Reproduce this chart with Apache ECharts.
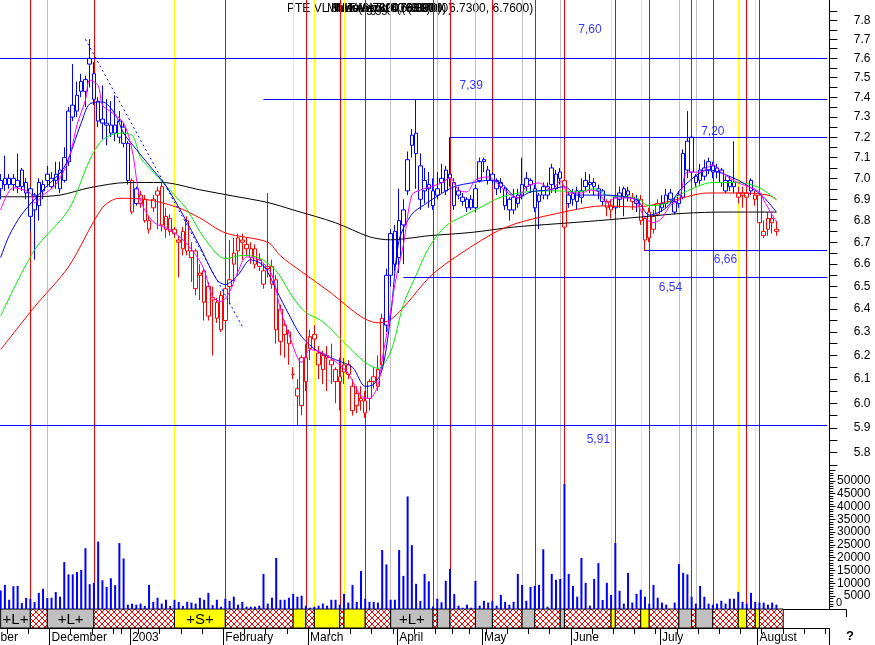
<!DOCTYPE html>
<html><head><meta charset="utf-8"><title>PTE VL JMT</title>
<script src="https://cdn.jsdelivr.net/npm/echarts@6/dist/echarts.min.js"></script>
<style>html,body{margin:0;padding:0;background:#fff;}#chart{width:875px;height:645px;}</style>
</head><body><div id="chart"></div>
<script>
// ---------- trading days (categories) ----------
const holidays = ['2002-12-24','2002-12-25','2002-12-26','2003-01-01','2003-04-18','2003-04-21','2003-05-01'];
const firstDay = '2002-11-01';
const dayCount = 205;
const days = [];
(function(){
  let t = Date.parse(firstDay + 'T00:00:00Z');
  while (days.length < dayCount) {
    const d = new Date(t); const wd = d.getUTCDay(); const s = d.toISOString().slice(0,10);
    if (wd !== 0 && wd !== 6 && holidays.indexOf(s) < 0) days.push(s);
    t += 86400000;
  }
})();
const monthNames = ['2003','February','March','April','May','June','July','August','September','October','November','December'];

// ---------- daily candles (from 2002-11-14) ----------
const candleStart = '2002-11-14';
const opens = [
6.95,6.97,6.97,7.00,6.99,7.04,6.98,6.95,6.92,6.87,
6.94,7.02,6.96,7.02,6.95,6.99,7.08,7.30,7.33,7.43,
7.49,7.60,7.52,7.38,7.27,7.26,7.22,7.26,7.28,7.25,
7.17,6.99,6.88,6.92,6.90,6.80,6.86,6.94,6.96,6.82,
6.81,6.76,6.71,6.67,6.80,6.66,6.66,6.55,6.57,6.37,
6.45,6.43,6.31,6.49,6.50,6.60,6.66,6.70,6.69,6.63,
6.67,6.62,6.51,6.59,6.59,6.53,6.40,6.29,6.30,6.12,
6.06,5.99,6.09,6.23,6.27,6.21,6.14,6.20,6.16,6.14,
6.11,6.13,6.16,6.07,6.04,6.02,6.01,6.02,6.09,6.07,
6.16,6.33,6.55,6.75,6.63,6.78,6.94,7.16,7.12,7.06,
6.94,6.95,6.87,6.92,6.98,6.94,7.00,6.98,6.94,6.91,
6.90,6.90,6.86,6.99,7.09,7.04,7.02,6.99,6.96,6.95,
6.90,6.91,6.88,6.92,6.96,6.97,6.95,6.89,6.92,6.96,
6.97,6.95,7.00,6.99,6.88,6.90,6.94,6.91,6.96,6.97,
6.96,6.95,6.94,6.89,6.85,6.86,6.90,6.91,6.92,6.89,
6.88,6.90,6.81,6.72,6.76,6.83,6.86,6.88,6.93,6.89,
6.88,6.91,7.04,7.20,6.98,6.99,7.01,7.04,7.03,7.05,
7.04,6.99,6.96,6.96,6.93,6.93,6.91,6.94,6.92,6.92,
6.75,6.76,6.81,6.75];
const closes = [
6.99,7.00,7.00,6.97,6.96,6.96,6.93,6.82,6.85,6.98,
6.97,6.99,7.00,6.99,7.04,7.10,7.33,7.36,7.41,7.48,
7.43,7.57,7.39,7.28,7.29,7.27,7.26,7.22,7.20,7.17,
6.99,6.84,6.95,6.88,6.80,6.76,6.90,6.92,6.78,6.76,
6.75,6.74,6.70,6.75,6.66,6.63,6.49,6.56,6.43,6.50,
6.44,6.36,6.46,6.35,6.53,6.65,6.72,6.71,6.67,6.67,
6.60,6.59,6.57,6.58,6.51,6.31,6.26,6.33,6.25,6.12,
6.03,6.19,6.19,6.28,6.29,6.16,6.20,6.19,6.18,6.09,
6.09,6.16,6.12,5.97,5.99,6.01,5.96,6.09,6.11,6.14,
6.36,6.55,6.74,6.60,6.80,6.85,7.09,7.21,7.22,6.90,
6.99,6.97,6.94,6.95,7.00,7.04,7.02,6.87,6.92,6.89,
6.86,6.86,6.95,7.08,7.08,6.99,6.99,6.95,6.98,6.87,
6.85,6.85,6.92,6.97,7.00,6.99,6.86,6.92,6.96,6.92,
7.05,7.02,7.03,6.77,6.92,6.93,6.89,6.94,6.99,6.98,
6.98,6.94,6.89,6.86,6.87,6.91,6.93,6.95,6.94,6.91,
6.90,6.80,6.71,6.84,6.82,6.88,6.88,6.92,6.90,6.84,
6.92,7.12,7.18,7.03,7.01,7.04,7.05,7.08,7.06,7.03,
6.98,6.94,6.99,6.98,6.91,6.92,6.93,6.99,6.90,6.79,
6.73,6.81,6.79,6.76];
const lows = [
6.90,6.94,6.95,6.94,6.93,6.94,6.90,6.75,6.62,6.80,
6.90,6.96,6.95,6.95,6.93,6.98,7.06,7.28,7.30,7.40,
7.35,7.45,7.36,7.25,7.19,7.16,7.20,7.18,7.17,7.15,
6.97,6.83,6.87,6.86,6.79,6.74,6.84,6.76,6.75,6.72,
6.73,6.72,6.54,6.64,6.64,6.52,6.46,6.44,6.35,6.35,
6.20,6.34,6.30,6.33,6.42,6.52,6.55,6.62,6.64,6.60,
6.58,6.57,6.49,6.54,6.49,6.25,6.20,6.19,6.16,6.10,
5.91,5.95,6.05,6.18,6.22,6.10,6.08,6.05,6.08,6.00,
5.97,6.08,6.10,5.95,5.96,5.97,5.94,5.97,6.06,6.05,
6.14,6.30,6.50,6.57,6.56,6.60,6.92,7.10,6.95,6.85,
6.88,6.86,6.85,6.90,6.93,6.92,6.96,6.85,6.90,6.87,
6.84,6.85,6.84,6.98,7.03,6.97,6.97,6.92,6.93,6.85,
6.80,6.83,6.86,6.90,6.94,6.93,6.84,6.76,6.90,6.90,
6.93,6.93,6.97,6.54,6.86,6.87,6.85,6.88,6.94,6.93,
6.92,6.90,6.87,6.82,6.81,6.83,6.86,6.82,6.89,6.85,
6.84,6.78,6.66,6.70,6.74,6.82,6.84,6.86,6.88,6.83,
6.86,6.90,7.00,7.00,6.96,6.97,6.99,7.02,7.00,7.00,
6.96,6.93,6.94,6.93,6.88,6.86,6.87,6.92,6.87,6.78,
6.72,6.73,6.74,6.73];
const highs = [
7.02,7.11,7.02,7.02,7.12,7.05,7.00,6.96,6.93,7.00,
6.99,7.06,7.03,7.08,7.08,7.15,7.35,7.57,7.48,7.52,
7.51,7.70,7.58,7.40,7.46,7.39,7.38,7.41,7.33,7.27,
7.18,7.00,6.96,6.94,6.92,6.82,6.92,6.96,6.98,6.86,
6.83,6.77,6.73,6.77,6.82,6.70,6.67,6.60,6.58,6.52,
6.50,6.45,6.48,6.55,6.71,6.72,6.74,6.74,6.72,6.70,
6.69,6.65,6.60,6.93,6.62,6.55,6.42,6.35,6.31,6.15,
6.10,6.20,6.25,6.31,6.33,6.24,6.22,6.24,6.25,6.15,
6.19,6.19,6.18,6.10,6.07,6.07,6.05,6.10,6.15,6.20,
6.38,6.58,6.76,6.78,6.95,6.90,7.13,7.24,7.39,7.12,
7.05,7.03,7.00,7.03,7.07,7.06,7.20,7.00,6.96,6.93,
6.91,6.92,6.97,7.10,7.10,7.06,7.03,7.00,7.00,6.96,
6.91,6.95,6.95,7.10,7.03,7.00,6.97,6.93,6.98,6.98,
7.07,7.04,7.05,7.04,6.94,6.95,6.96,7.00,7.03,7.02,
7.00,6.97,6.95,6.90,6.90,6.92,6.96,6.96,6.96,6.93,
6.92,6.92,6.82,6.86,6.85,6.90,6.92,6.95,6.95,6.91,
6.94,7.14,7.33,7.21,7.02,7.07,7.09,7.10,7.08,7.07,
7.05,7.01,7.01,7.18,6.96,6.96,6.97,7.00,6.94,6.93,
6.80,6.84,6.83,6.80];
// b = blue candle, r = red candle
const candleColors =
'bbbbbbbbbb'+'bbbbbbbbbb'+'bbbbbbbbbb'+'brbrrrrrrr'+'rrrrrrrrrr'+'rrrrrrrrrr'+
'rrrrrrrrrr'+'rrrrrrrrrr'+'rrrrrrrrrr'+'rbbbbbbbbb'+'bbbbbbbbbb'+'bbbbbbbbbb'+
'bbbbbbbbbb'+'bbbrbbbbbb'+'bbbrrbbbbr'+'brrrrrbbbb'+'bbbbbbbbbb'+'bbbbrrrbrr'+'rrrr';
const volumes = [
7200,9400,3600,8900,9000,2300,4300,4000,2700,6300,
7900,4300,4400,6600,4800,18300,13500,13500,14400,15200,
23700,9700,10200,26300,11200,8600,12000,9300,25700,19700,
1700,2100,1700,2100,1200,9400,2800,4400,2100,3600,
1200,3600,2700,1200,2800,2500,2100,4400,3600,6300,
1500,3600,900,4000,3200,4800,1700,2800,900,900,
900,1300,13700,2100,4400,19900,3600,3600,4400,5900,
4800,5200,1300,500,900,1300,2100,1300,3600,3600,
1700,5900,2500,9400,2800,14800,4000,2800,2800,2500,
23000,17400,3600,3600,23000,12900,43900,24900,9800,3100,
13700,10800,1000,4000,2600,11000,15600,5800,1300,500,
1700,500,11000,1300,3200,2500,3200,1300,5500,2800,
1700,2800,13700,9400,3200,8600,9000,9400,23300,900,
13700,11400,11700,48800,13700,9000,4800,19900,10200,1300,
11700,17900,3500,10200,5500,25700,7100,2100,14100,2500,
5900,7500,4800,2100,9400,4400,2500,1700,0,2500,
17500,14100,13500,4800,2100,9000,4800,2100,1700,2100,
3200,2100,4000,4000,6700,2800,2100,6300,2800,2500,
2500,1700,2500,1700];

// ---------- moving averages: [trading-day index, price] ----------
const maPink = [[9,6.85],[12,6.955],[16,6.93],[17,6.883],[19,6.92],[22,6.97],[25,7.088],[27,7.26],[29,7.386],[30,7.488],[32,7.46],[33,7.36],[35,7.326],[38,7.27],[40,7.137],[42,6.897],[45,6.794],[49,6.757],[52,6.711],[55,6.643],[57,6.575],[59,6.454],[61,6.433],[63,6.476],[65,6.566],[67,6.633],[70,6.62],[73,6.552],[75,6.398],[77,6.29],[80,6.17],[82,6.225],[85,6.21],[88,6.174],[91,6.124],[94,6.03],[96,6.02],[98,6.074],[99,6.182],[101,6.39],[102,6.51],[104,6.688],[106,6.92],[108,6.944],[111,6.963],[113,6.978],[115,7.002],[117,6.944],[119,6.935],[121,6.992],[124,7.007],[126,6.978],[129,6.925],[131,6.906],[133,6.96],[136,6.978],[139,6.944],[141,6.987],[143,6.93],[146,6.93],[148,6.944],[150,6.935],[152,6.883],[154,6.906],[158,6.906],[161,6.812],[163,6.79],[165,6.812],[167,6.873],[169,6.897],[171,7.03],[174,7.03],[177,7.065],[179,7.03],[181,7.0],[183,6.978],[186,6.955],[188,6.935],[189,6.897],[191,6.826],[192,6.794]];
const maBlue = [[9,6.63],[11,6.73],[14,6.83],[19,6.944],[24,7.054],[28,7.27],[30,7.366],[33,7.376],[36,7.315],[38,7.22],[41,7.14],[44,7.064],[48,6.963],[52,6.827],[56,6.68],[60,6.53],[62,6.508],[65,6.552],[68,6.62],[71,6.593],[74,6.485],[77,6.376],[80,6.28],[84,6.215],[88,6.182],[92,6.15],[95,6.07],[97,6.078],[99,6.14],[101,6.37],[103,6.71],[106,6.83],[109,6.875],[112,6.915],[116,6.96],[120,6.978],[124,6.99],[127,6.978],[131,6.906],[134,6.935],[138,6.944],[142,6.96],[145,6.92],[151,6.92],[159,6.897],[162,6.826],[166,6.86],[170,6.96],[176,7.04],[182,7.0],[186,6.955],[189,6.91],[192,6.84]];
const maGreen = [[9,6.37],[17,6.665],[25,6.85],[30,7.088],[33,7.186],[37,7.22],[40,7.21],[42,7.10],[45,7.03],[50,6.92],[53,6.85],[57,6.72],[62,6.625],[66,6.64],[70,6.628],[74,6.57],[78,6.45],[81,6.385],[85,6.345],[90,6.255],[95,6.17],[98,6.145],[101,6.215],[104,6.42],[107,6.55],[110,6.675],[114,6.775],[118,6.82],[122,6.86],[127,6.91],[133,6.935],[140,6.94],[145,6.935],[149,6.95],[152,6.92],[159,6.905],[162,6.87],[166,6.88],[170,6.93],[177,6.98],[183,6.98],[188,6.955],[192,6.897]];
const maRed = [[9,6.225],[17,6.41],[25,6.588],[33,6.86],[37,6.905],[44,6.897],[51,6.86],[56,6.812],[62,6.743],[72,6.70],[75,6.638],[80,6.566],[87,6.47],[94,6.367],[98,6.34],[101,6.354],[105,6.428],[110,6.539],[115,6.615],[125,6.739],[131,6.789],[143,6.845],[151,6.869],[159,6.864],[166,6.887],[176,6.93],[184,6.93],[190,6.92],[192,6.90]];
const maBlack = [[9,6.912],[16,6.912],[23,6.92],[30,6.955],[39,6.98],[47,6.98],[56,6.945],[64,6.915],[72,6.885],[78,6.85],[88,6.79],[96,6.725],[101,6.711],[106,6.72],[110,6.73],[120,6.745],[130,6.77],[140,6.785],[150,6.80],[160,6.817],[170,6.834],[180,6.84],[192,6.84]];

// ---------- annotation levels ----------
const levels      = [7.60, 7.39, 7.20, 6.66, 6.54, 5.91];
const levelStart  = [0, 71, 115, 161, 104, 0];
const levelLabelDay   = [148, 120, 177, 180, 167, 150];
const levelLabelPrice = [7.749, 7.457, 7.226, 6.619, 6.495, 5.851];
const trendFrom = [29, 7.70], trendTo = [66, 6.325];

// ---------- signal band ----------
// [start trading-day index, kind (L gray, S yellow, H red hatch), text]
const bandSegments = [[9,'L','+L+'],[16,'H',''],[20,'L','+L+'],[31,'H',''],[50,'S','+S+'],[62,'H',''],[78,'S',''],[81,'H',''],[83,'S',''],[89,'H',''],[90,'S',''],[95,'H',''],[101,'L','+L+'],[111,'H',''],[112,'L',''],[115,'H',''],[121,'L',''],[125,'H',''],[132,'L',''],[135,'H',''],[141,'L',''],[142,'H',''],[153,'S',''],[154,'H',''],[160,'S',''],[162,'H',''],[169,'L',''],[172,'H',''],[173,'L',''],[177,'H',''],[183,'S',''],[185,'H',''],[187,'S',''],[188,'H','']];
const bandEnd = 193.6;

// ---------- axis ticks ----------
const priceLabels = [5.8,5.9,6.0,6.1,6.2,6.3,6.4,6.5,6.6,6.7,6.8,6.9,7.0,7.1,7.2,7.3,7.4,7.5,7.6,7.7,7.8];
const priceTop = 7.9098, priceBottom = 5.7318;
const volumeMax = 54200;

// ---------- build ----------
const ln = Math.log;
const startIdx = days.indexOf(candleStart);
const BLUE = '#0000ff', RED = '#ff0000';
const candleData = days.map(() => ['-','-','-','-']);
const volumeData = days.map(() => '-');
for (let k = 0; k < opens.length; k++) {
  const c = candleColors[k] === 'b' ? BLUE : RED;
  candleData[startIdx + k] = { value: [ln(opens[k]), ln(closes[k]), ln(lows[k]), ln(highs[k])],
    itemStyle: { color: '#ffffff', color0: c, borderColor: c, borderColor0: c } };
}
for (let k = 0; k < volumes.length; k++) volumeData[startIdx + k] = volumes[k];

const isMonthStart = i => i === 0 || days[i].slice(0,7) !== days[i-1].slice(0,7);
const isWeekStart = i => {
  if (i === 0) return true;
  const a = new Date(days[i-1] + 'T00:00:00Z'), b = new Date(days[i] + 'T00:00:00Z');
  return b.getUTCDay() < a.getUTCDay() || (b - a) >= 7 * 86400000;
};
const monthLabel = i => monthNames[(parseInt(days[i].slice(5,7), 10) + 11) % 12];

const kindColor = { L: '#c0c0c0', S: '#ffff00', H: RED };
const vLines = bandSegments.slice(1).map(s => ({ xAxis: days[s[0]], lineStyle: { color: kindColor[s[1]], width: 1, type: 'solid' } }));

const hatch = document.createElement('canvas'); hatch.width = 6; hatch.height = 6;
(function(){ const g = hatch.getContext('2d'); g.fillStyle = '#ffffff'; g.fillRect(0,0,6,6); g.fillStyle = RED;
  for (let k = 0; k < 6; k++) { g.fillRect(k, k, 1, 1); g.fillRect(5 - k, k, 1, 1); } })();

const priceTickVals = [];
priceLabels.forEach(v => { priceTickVals.push(ln(v)); priceTickVals.push(ln(v + 0.05)); });
priceTickVals.push(ln(5.75));

const FONT = 'Arial, "Liberation Sans", sans-serif';
const GL = -39.6, GW = 869;
const grid = (top, height) => ({ left: GL, width: GW, top: top, height: height, outerBoundsMode: 'none', containLabel: false });
const maLine = (pts, color) => ({ type: 'line', xAxisIndex: 0, yAxisIndex: 0, data: pts.map(p => [p[0], ln(p[1])]),
  smooth: 0.3, showSymbol: false, symbol: 'none', z: 3, silent: true, color: color, lineStyle: { color: color, width: 1 } });
const emptyData = days.map(() => '-');

// level lines: [start day index, end day index, ln(level)] drawn with the axis scales
const levelSeries = { type: 'custom', xAxisIndex: 0, yAxisIndex: 0, silent: true, z: 4,
  encode: { x: [0, 1], y: 2 },
  data: levels.map((v, k) => [levelStart[k], dayCount - 1, ln(v)]),
  renderItem: function (params, api) {
    const a = api.coord([api.value(0), api.value(2)]);
    const b = api.coord([api.value(1), api.value(2)]);
    const y = Math.round(a[1] - 0.5) + 0.5;
    return { type: 'line', shape: { x1: a[0], y1: y, x2: b[0], y2: y }, style: { stroke: BLUE, lineWidth: 1 } };
  } };
const trendSeries = { type: 'line', xAxisIndex: 0, yAxisIndex: 0, silent: true, z: 4, showSymbol: false, symbol: 'none',
  color: BLUE, lineStyle: { color: BLUE, width: 1, type: [2, 3] },
  data: [[trendFrom[0], ln(trendFrom[1])], [trendTo[0], ln(trendTo[1])]] };

const option = {
  animation: false,
  backgroundColor: '#ffffff',
  textStyle: { fontFamily: FONT },
  grid: [grid(0, 470), grid(470, 139), grid(609, 19), grid(609, 19), grid(609, 19)],
  xAxis: [
    { type: 'category', gridIndex: 0, data: days, show: false },
    { type: 'category', gridIndex: 1, data: days, axisLine: { show: true, lineStyle: { color: '#000', width: 1 } }, axisTick: { show: false }, axisLabel: { show: false } },
    { type: 'value', gridIndex: 2, min: -0.5, max: dayCount - 0.5, show: false },
    { type: 'category', gridIndex: 3, data: days, axisLine: { show: true, lineStyle: { color: '#000', width: 1 } },
      axisTick: { show: true, interval: (i) => isWeekStart(i), length: 6, lineStyle: { color: '#000' } }, axisLabel: { show: false } },
    { type: 'category', gridIndex: 4, data: days, axisLine: { show: false },
      axisTick: { show: true, interval: (i) => isMonthStart(i), length: 17, lineStyle: { color: '#000' } },
      axisLabel: { show: true, interval: (i) => isMonthStart(i), formatter: (v) => monthLabel(days.indexOf(v)), align: 'left', margin: 4, fontSize: 12, color: '#000', fontFamily: FONT } }
  ],
  yAxis: [
    { type: 'value', gridIndex: 0, position: 'right', min: ln(priceBottom), max: ln(priceTop), splitLine: { show: false },
      axisLine: { show: true, lineStyle: { color: '#000', width: 1 } },
      axisTick: { show: true, length: 8, customValues: priceTickVals, lineStyle: { color: '#000' } },
      axisLabel: { show: true, customValues: priceLabels.map(v => ln(v)), formatter: v => Math.exp(v).toFixed(1), align: 'right', margin: 41, fontSize: 12, color: '#000', fontFamily: FONT } },
    { type: 'value', gridIndex: 1, position: 'right', min: 0, max: volumeMax, interval: 5000, splitLine: { show: false },
      axisLine: { show: true, lineStyle: { color: '#000', width: 1 } },
      axisTick: { show: true, length: 6, lineStyle: { color: '#000' } },
      minorTick: { show: true, splitNumber: 5, length: 4, lineStyle: { color: '#000' } }, minorSplitLine: { show: false },
      axisLabel: { show: true, showMinLabel: false, showMaxLabel: false, formatter: v => String(v), align: 'right', margin: 41, fontSize: 12, color: '#000', fontFamily: FONT } },
    { type: 'value', gridIndex: 2, min: 0, max: 1, show: false },
    { type: 'value', gridIndex: 3, show: false },
    { type: 'value', gridIndex: 4, show: false }
  ],
  series: [
    { type: 'line', xAxisIndex: 0, yAxisIndex: 0, data: emptyData, silent: true, showSymbol: false,
      markLine: { z: 1, silent: true, symbol: ['none','none'], label: { show: false }, animation: false, data: vLines } },
    { type: 'line', xAxisIndex: 1, yAxisIndex: 1, data: emptyData, silent: true, showSymbol: false,
      markLine: { z: 1, silent: true, symbol: ['none','none'], label: { show: false }, animation: false, data: vLines } },
    { type: 'candlestick', xAxisIndex: 0, yAxisIndex: 0, data: candleData, barWidth: 4, z: 2, silent: true,
      itemStyle: { borderWidth: 1 } },
    maLine(maBlack, '#000000'),
    maLine(maRed, RED),
    maLine(maGreen, '#00ee00'),
    maLine(maBlue, BLUE),
    maLine(maPink, '#ff00ff'),
    trendSeries,
    levelSeries,
    { type: 'scatter', xAxisIndex: 0, yAxisIndex: 0, silent: true, z: 5, symbolSize: 1, itemStyle: { color: 'rgba(0,0,0,0)' },
      data: levelLabelDay.map((d, k) => [d, ln(levelLabelPrice[k])]),
      label: { show: true, position: 'inside', color: BLUE, fontSize: 12, fontFamily: FONT,
        formatter: p => levels[p.dataIndex].toFixed(2).replace('.', ',') } },
    { type: 'bar', xAxisIndex: 1, yAxisIndex: 1, data: volumeData, barWidth: 2, silent: true, itemStyle: { color: BLUE } },
    { type: 'custom', xAxisIndex: 2, yAxisIndex: 2, silent: true,
      data: bandSegments.map((s, k) => [s[0], k + 1 < bandSegments.length ? bandSegments[k + 1][0] : bandEnd, k]),
      renderItem: function (params, api) {
        const seg = bandSegments[api.value(2)];
        const p0 = api.coord([api.value(0), 1]);
        const p1 = api.coord([api.value(1), 0]);
        const fill = seg[1] === 'H' ? { image: hatch, repeat: 'repeat' } : kindColor[seg[1]];
        const children = [{ type: 'rect', shape: { x: p0[0], y: p0[1], width: p1[0] - p0[0], height: p1[1] - p0[1] },
          style: { fill: fill, stroke: '#000000', lineWidth: 1 } }];
        if (seg[2]) children.push({ type: 'text', style: { text: seg[2], x: (p0[0] + p1[0]) / 2, y: (p0[1] + p1[1]) / 2 + 1,
          align: 'center', verticalAlign: 'middle', fontSize: 15, fontFamily: FONT, fill: '#000000' } });
        return { type: 'group', children: children };
      } }
  ],
  graphic: [
    { type: 'text', left: 287, top: 3, silent: true, style: { text: 'PTE VL JMT (6.7800, 6.8000, 6.7300, 6.7600)', fontSize: 12, fontFamily: FONT, fill: '#000' } },
    { type: 'text', left: 327, top: 3, silent: true, style: { text: 'Mov.Avg 5 (6.7880)', fontSize: 12, fontFamily: FONT, fill: '#000' } },
    { type: 'text', left: 331, top: 3, silent: true, style: { text: 'Mov.Avg 10 (6.8370)', fontSize: 12, fontFamily: FONT, fill: '#000' } },
    { type: 'text', left: 336, top: 3, silent: true, style: { text: 'Mov.Avg 20 (6.8810)', fontSize: 12, fontFamily: FONT, fill: '#000' } },
    { type: 'text', left: 342, top: 3, silent: true, style: { text: 'Mov.Avg 40 (6.9010)', fontSize: 12, fontFamily: FONT, fill: '#000' } },
    { type: 'text', left: 836, top: 597, silent: true, style: { text: '0', fontSize: 11, fontFamily: FONT, fill: '#000' } },
    { type: 'polyline', silent: true, shape: { points: [[829, 609.5], [846.5, 609.5], [846.5, 617]] }, style: { stroke: '#000', lineWidth: 1, fill: null } },
    { type: 'text', left: 846, top: 630, silent: true, style: { text: '?', fontSize: 13, fontWeight: 'bold', fontFamily: FONT, fill: '#000' } }
  ]
};
const chart = echarts.init(document.getElementById('chart'), null, { renderer: 'canvas', width: 875, height: 645 });
chart.setOption(option);
</script></body></html>
